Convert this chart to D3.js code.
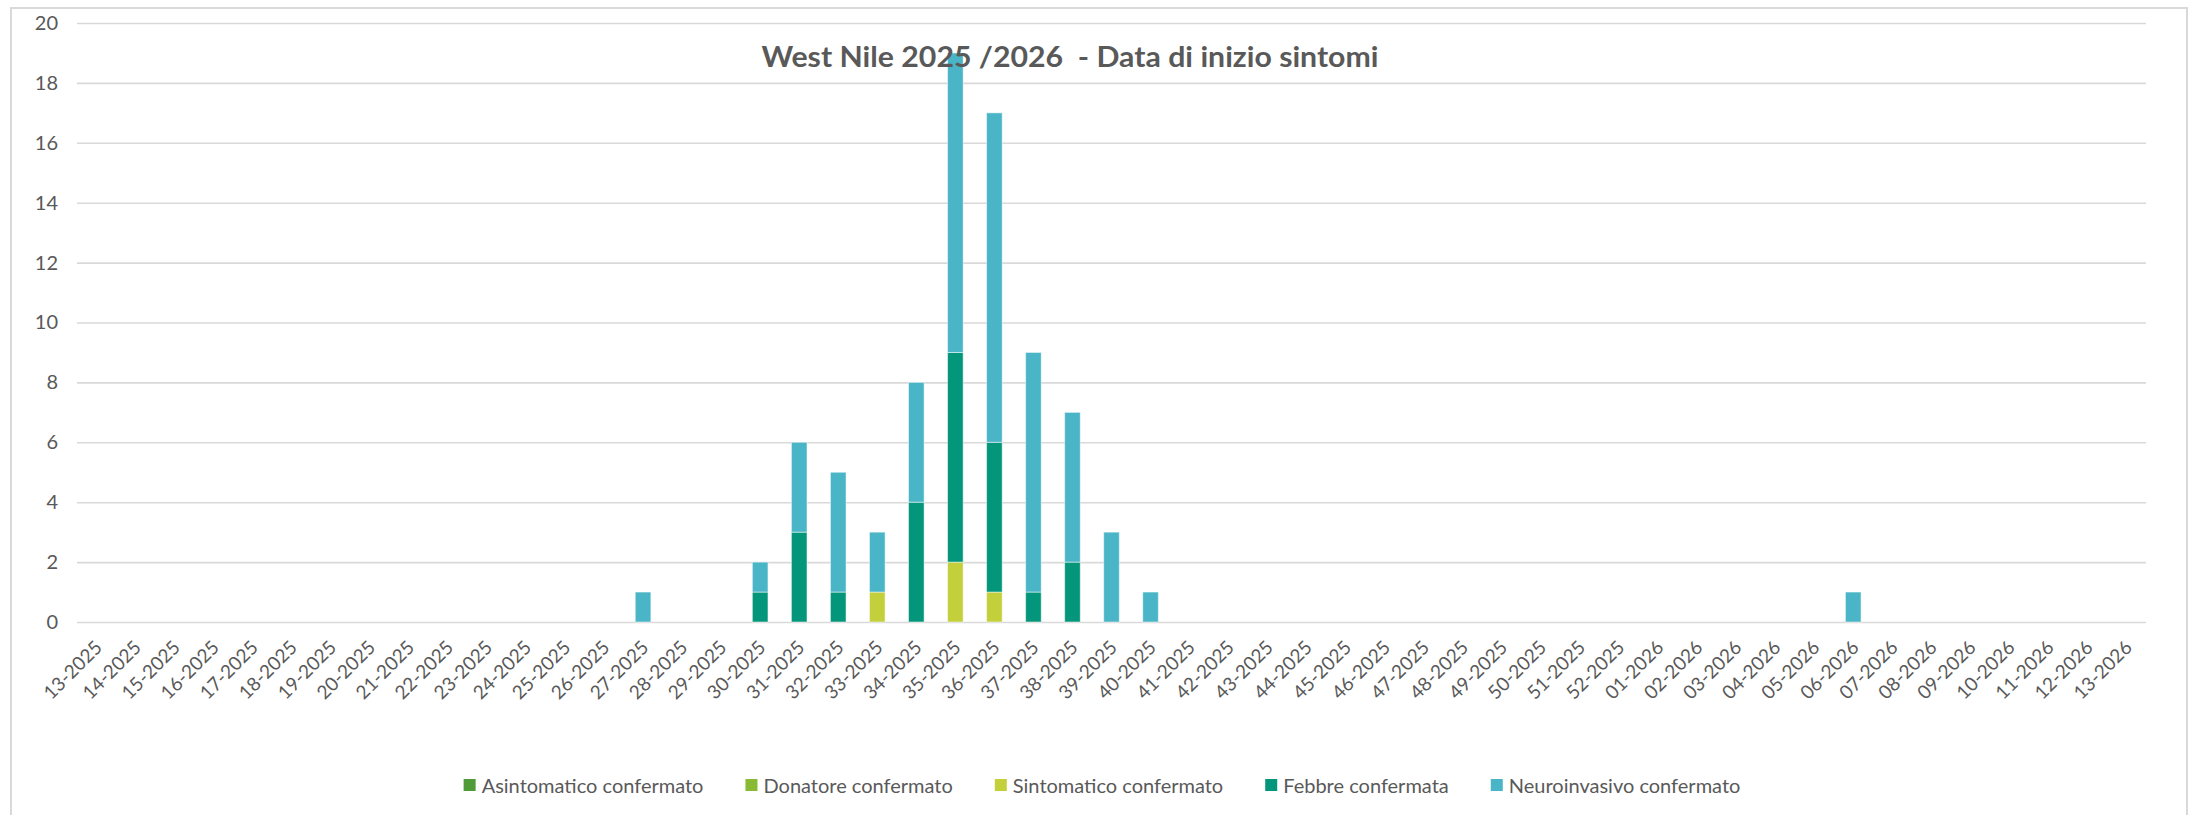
<!DOCTYPE html>
<html>
<head>
<meta charset="utf-8">
<script src="https://cdn.jsdelivr.net/npm/d3@7"></script>
<style>
  body { margin:0; background:#fff; }
  text { font-family: Lato, "Noto Sans", sans-serif; fill:#595959; }
</style>
</head>
<body>
<div class="canvas"></div>
<script>
// DATA
const weeks = [
    "13-2025","14-2025","15-2025","16-2025","17-2025","18-2025","19-2025","20-2025","21-2025","22-2025",
    "23-2025","24-2025","25-2025","26-2025","27-2025","28-2025","29-2025","30-2025","31-2025","32-2025",
    "33-2025","34-2025","35-2025","36-2025","37-2025","38-2025","39-2025","40-2025","41-2025","42-2025",
    "43-2025","44-2025","45-2025","46-2025","47-2025","48-2025","49-2025","50-2025","51-2025","52-2025",
    "01-2026","02-2026","03-2026","04-2026","05-2026","06-2026","07-2026","08-2026","09-2026","10-2026",
    "11-2026","12-2026","13-2026"
];

const asintomatico = [
    0,0,0,0,0,0,0,0,0,0, 0,0,0,0,0,0,0,0,0,0, 0,0,0,0,0,0,0,0,0,0,
    0,0,0,0,0,0,0,0,0,0, 0,0,0,0,0,0,0,0,0,0, 0,0,0
];
const donatore = [
    0,0,0,0,0,0,0,0,0,0, 0,0,0,0,0,0,0,0,0,0, 0,0,0,0,0,0,0,0,0,0,
    0,0,0,0,0,0,0,0,0,0, 0,0,0,0,0,0,0,0,0,0, 0,0,0
];
const sintomatico = [
    0,0,0,0,0,0,0,0,0,0, 0,0,0,0,0,0,0,0,0,0, 1,0,2,1,0,0,0,0,0,0,
    0,0,0,0,0,0,0,0,0,0, 0,0,0,0,0,0,0,0,0,0, 0,0,0
];
const febbre = [
    0,0,0,0,0,0,0,0,0,0, 0,0,0,0,0,0,0,1,3,1, 0,4,7,5,1,2,0,0,0,0,
    0,0,0,0,0,0,0,0,0,0, 0,0,0,0,0,0,0,0,0,0, 0,0,0
];
const neuroinvasivo = [
    0,0,0,0,0,0,0,0,0,0, 0,0,0,0,1,0,0,1,3,4, 2,4,10,11,8,5,3,1,0,0,
    0,0,0,0,0,0,0,0,0,0, 0,0,0,0,0,1,0,0,0,0, 0,0,0
];

const seriesNames = ["Asintomatico confermato","Donatore confermato","Sintomatico confermato","Febbre confermata","Neuroinvasivo confermato"];
const seriesColors = ["#4f9b37","#8ab934","#c3cf3b","#03967a","#4ab5c6"];
const yTicks = [0,2,4,6,8,10,12,14,16,18,20];
const title = "West Nile 2025 /2026  - Data di inizio sintomi";

const rows = weeks.map((w,i)=>({
    week:w,
    [seriesNames[0]]:asintomatico[i],
    [seriesNames[1]]:donatore[i],
    [seriesNames[2]]:sintomatico[i],
    [seriesNames[3]]:febbre[i],
    [seriesNames[4]]:neuroinvasivo[i]
}));

// Dimensions
const W = 2196, H = 815;
const margins = {top:23, right:50, bottom:193, left:77};
const width = W - margins.left - margins.right;
const height = H - margins.top - margins.bottom;

const svg = d3.select(".canvas")
.append("svg")
.attr("width", W)
.attr("height", H);

// outer frame
svg.append("rect")
.attr("x",11).attr("y",8)
.attr("width",2176).attr("height",830)
.attr("fill","none")
.attr("stroke","#d9d9d9")
.attr("stroke-width",2);

const canvas = svg.append("g")
.attr("transform",`translate(${margins.left},${margins.top})`);

// SCALES
const xScale = d3.scaleBand()
.range([0,width])
.domain(weeks)
.paddingInner(0.6)
.paddingOuter(0.3);

const yScale = d3.scaleLinear()
.domain([0,20])
.range([height,0]);

const color = d3.scaleOrdinal().domain(seriesNames).range(seriesColors);

// GRID + Y AXIS
const yAxis = canvas.append("g")
.call(d3.axisLeft(yScale).tickValues(yTicks).tickSize(-width).tickPadding(19).tickFormat(d3.format("d")));
yAxis.select(".domain").remove();
yAxis.selectAll(".tick line").attr("stroke","#d9d9d9").attr("stroke-width",1.6);
yAxis.selectAll(".tick text").style("font-size","20px").attr("fill","#595959");

// X AXIS
const xAxis = canvas.append("g")
.attr("transform",`translate(0,${height})`)
.call(d3.axisBottom(xScale).tickSize(0).tickPadding(0));
xAxis.select(".domain").remove();
xAxis.selectAll(".tick text")
.style("font-size","19px")
.attr("fill","#595959")
.attr("text-anchor","end")
.attr("dy","0.35em")
.attr("transform","translate(2,22) rotate(-45)");

// BARS
const stacked = d3.stack().keys(seriesNames)(rows);

canvas.selectAll("g.layer")
.data(stacked)
.enter()
.append("g")
.attr("class","layer")
.attr("fill",d=>color(d.key))
.selectAll("rect")
.data(d=>d.filter(p=>p[1]-p[0]>0))
.enter()
.append("rect")
.attr("x",d=>xScale(d.data.week))
.attr("y",d=>yScale(d[1]))
.attr("width",xScale.bandwidth())
.attr("height",d=>yScale(d[0])-yScale(d[1]))
.attr("stroke","#ffffff")
.attr("stroke-opacity",0.5)
.attr("stroke-width",1);

// TITLE
svg.append("text")
.attr("x",1070)
.attr("y",67)
.attr("text-anchor","middle")
.attr("textLength",617)
.attr("lengthAdjust","spacingAndGlyphs")
.style("font-size","28px")
.style("font-weight","bold")
.style("white-space","pre")
.text(title);

// LEGEND
const legend = svg.append("g").attr("transform","translate(0,786)");
const items = legend.selectAll("g")
.data(seriesNames)
.enter()
.append("g");

items.append("rect")
.attr("width",12).attr("height",12)
.attr("y",-7)
.attr("fill",d=>color(d));

items.append("text")
.attr("x",18)
.attr("dy","0.35em")
.style("font-size","20px")
.text(d=>d);

let xPos = 0;
const gap = 42;
const offsets = [];
items.each(function(){
    offsets.push(xPos);
    xPos += this.getBBox().width + gap;
});
const total = xPos - gap;
const start = 1102 - total/2;
items.attr("transform",(d,i)=>`translate(${start+offsets[i]},0)`);
</script>
</body>
</html>
